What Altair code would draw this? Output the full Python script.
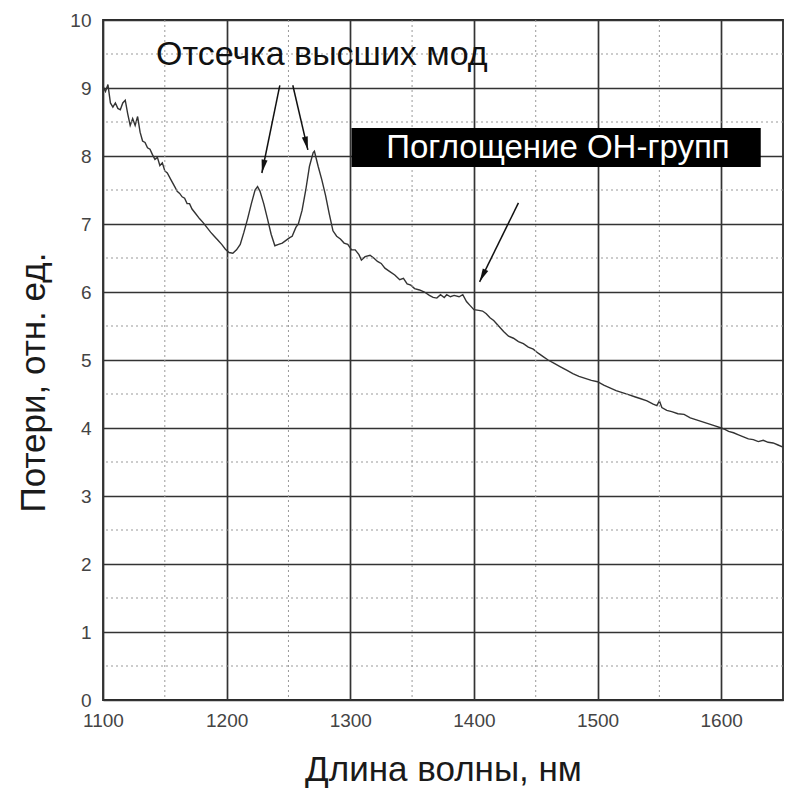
import math
import altair as alt
import pandas as pd

# ---------------- data ----------------
wavelength = [1100, 1102, 1104, 1106, 1108, 1110, 1112, 1114, 1116, 1118, 1120, 1122, 1124, 1126, 1128,
              1130, 1132, 1134, 1136, 1138, 1140, 1142, 1144, 1146, 1148, 1150, 1152, 1155, 1158, 1160,
              1162, 1164, 1166, 1168, 1170, 1172, 1175, 1178, 1181, 1184, 1187, 1190, 1193, 1196, 1199,
              1202, 1205, 1208, 1211, 1214, 1217, 1220, 1223, 1225, 1227, 1230, 1233, 1236, 1239, 1242,
              1245, 1248, 1251, 1253, 1256, 1258, 1261, 1264, 1267, 1270, 1271, 1274, 1277, 1280, 1283,
              1286, 1289, 1292, 1295, 1298, 1301, 1304, 1307, 1309, 1312, 1316, 1319, 1322, 1325, 1328,
              1332, 1336, 1340, 1343, 1346, 1349, 1352, 1356, 1360, 1364, 1367, 1370, 1373, 1376, 1378,
              1381, 1384, 1388, 1391, 1394, 1397, 1400, 1404, 1407, 1410, 1413, 1416, 1420, 1424, 1428,
              1432, 1436, 1440, 1444, 1448, 1452, 1456, 1460, 1465, 1470, 1475, 1480, 1485, 1490, 1495,
              1500, 1505, 1510, 1515, 1520, 1525, 1530, 1535, 1540, 1545, 1548, 1550, 1552, 1556, 1560,
              1565, 1570, 1575, 1580, 1585, 1590, 1595, 1600, 1603, 1606, 1610, 1614, 1618, 1622, 1626,
              1630, 1634, 1638, 1642, 1646, 1650]
loss = [9.02, 8.95, 9.05, 8.78, 8.72, 8.78, 8.70, 8.68, 8.78, 8.82, 8.62, 8.45, 8.55, 8.45, 8.58,
        8.35, 8.22, 8.20, 8.12, 8.10, 8.02, 7.95, 7.98, 7.86, 7.90, 7.78, 7.75, 7.65, 7.55, 7.48,
        7.45, 7.40, 7.38, 7.30, 7.30, 7.22, 7.15, 7.08, 7.02, 6.95, 6.88, 6.82, 6.76, 6.70, 6.63,
        6.58, 6.57, 6.62, 6.70, 6.88, 7.08, 7.30, 7.50, 7.55, 7.48, 7.30, 7.08, 6.85, 6.68, 6.70,
        6.72, 6.76, 6.80, 6.82, 6.95, 7.00, 7.20, 7.50, 7.85, 8.05, 8.07, 7.85, 7.65, 7.42, 7.15,
        6.90, 6.82, 6.78, 6.72, 6.70, 6.62, 6.62, 6.55, 6.47, 6.52, 6.54, 6.50, 6.45, 6.42, 6.35,
        6.30, 6.25, 6.18, 6.20, 6.12, 6.10, 6.05, 6.03, 6.00, 5.95, 5.92, 5.91, 5.96, 5.92, 5.96,
        5.93, 5.95, 5.93, 5.96, 5.86, 5.80, 5.74, 5.73, 5.72, 5.68, 5.62, 5.58, 5.50, 5.42, 5.35,
        5.32, 5.27, 5.24, 5.19, 5.16, 5.10, 5.05, 5.00, 4.95, 4.90, 4.85, 4.80, 4.76, 4.73, 4.70,
        4.68, 4.63, 4.59, 4.55, 4.52, 4.49, 4.46, 4.43, 4.40, 4.35, 4.33, 4.40, 4.30, 4.26, 4.24,
        4.21, 4.20, 4.15, 4.12, 4.09, 4.06, 4.03, 4.00, 3.98, 3.95, 3.93, 3.90, 3.87, 3.84, 3.83,
        3.80, 3.82, 3.79, 3.78, 3.75, 3.72]

x_ticks = [1100, 1200, 1300, 1400, 1500, 1600]
y_ticks = [0, 1, 2, 3, 4, 5, 6, 7, 8, 9, 10]
minor_x = [1150, 1250, 1350, 1450, 1550]
minor_y = [0.5, 1.5, 2.5, 3.5, 4.5, 5.5, 6.5, 7.5, 8.5, 9.5]

x_title = "Длина волны, нм"
y_title = "Потери, отн. ед."

label1_text = ["Отсечка высших мод"]
label1_x = [1277]
label1_y = [9.49]

label2_text = ["Поглощение ОН-групп"]
label2_x = [1468]
label2_y = [8.12]
box_x = [1301]
box_x2 = [1632]
box_y = [7.84]
box_y2 = [8.41]

arrow_x1 = [1243.0, 1253.5, 1436.0]
arrow_y1 = [9.04, 9.04, 7.31]
arrow_x2 = [1228.5, 1265.7, 1404.6]
arrow_y2 = [7.75, 8.09, 6.15]

# ---------------- layout ----------------
W, H = 680, 680
X_DOM = [1100, 1650]
Y_DOM = [0, 10]
FONT = "Liberation Sans"

xs = alt.Scale(domain=X_DOM, nice=False, zero=False)
ys = alt.Scale(domain=Y_DOM, nice=False, zero=True)

px_per_x = W / (X_DOM[1] - X_DOM[0])
px_per_y = H / (Y_DOM[1] - Y_DOM[0])

curve_df = pd.DataFrame({"x": wavelength, "y": loss})
arrows_df = pd.DataFrame({"x": arrow_x1, "y": arrow_y1, "x2": arrow_x2, "y2": arrow_y2})
# clockwise screen angle of each arrow's direction, measured from "up"
arrows_df["angle"] = [
    math.degrees(math.atan2((b - a) * px_per_x, (d - c) * px_per_y)) % 360
    for a, b, c, d in zip(arrow_x1, arrow_x2, arrow_y1, arrow_y2)
]

minor_x_df = pd.DataFrame({"x": minor_x})
minor_y_df = pd.DataFrame({"y": minor_y})
lab1_df = pd.DataFrame({"x": label1_x, "y": label1_y, "t": label1_text})
lab2_df = pd.DataFrame({"x": label2_x, "y": label2_y, "t": label2_text})
box_df = pd.DataFrame({"x": box_x, "x2": box_x2, "y": box_y, "y2": box_y2})

x_axis = alt.Axis(values=x_ticks, format="d", title=x_title, grid=True, gridColor="#333333",
                  gridWidth=1.7, gridOpacity=1, ticks=False, domain=False,
                  labelFont=FONT, labelFontSize=19, labelColor="#444", labelPadding=11,
                  labelFlush=False,
                  titleFont=FONT, titleFontSize=35, titleFontWeight="normal", titleColor="#1a1a1a",
                  titleX=W / 2, titleY=80, titleBaseline="alphabetic", titleAnchor="middle")
y_axis = alt.Axis(values=y_ticks, format="d", title=y_title, grid=True, gridColor="#333333",
                  gridWidth=1.7, gridOpacity=1, ticks=False, domain=False,
                  labelFont=FONT, labelFontSize=19, labelColor="#444", labelPadding=12,
                  labelFlush=False,
                  titleFont=FONT, titleFontSize=35, titleFontWeight="normal", titleColor="#1a1a1a",
                  titleX=-59, titleY=362, titleAngle=270, titleBaseline="alphabetic",
                  titleAlign="center")


def X(field):
    return alt.X(field, scale=xs, axis=x_axis)


def Y(field):
    return alt.Y(field, scale=ys, axis=y_axis)


curve = alt.Chart(curve_df).mark_line(color="#333333", strokeWidth=1.4).encode(
    x=X("x:Q"), y=Y("y:Q"))

minor_vx = alt.Chart(minor_x_df).mark_rule(color="#999999", strokeWidth=1, strokeDash=[2, 3]).encode(
    x=X("x:Q"))
minor_hy = alt.Chart(minor_y_df).mark_rule(color="#999999", strokeWidth=1, strokeDash=[2, 3]).encode(
    y=Y("y:Q"))

arrow_lines = alt.Chart(arrows_df).mark_rule(color="#111", strokeWidth=1.5).encode(
    x=X("x:Q"), x2="x2:Q", y=Y("y:Q"), y2="y2:Q")

arrow_heads = alt.Chart(arrows_df).mark_point(
    shape="M0,0L-0.45,2L0.45,2Z", filled=True, color="#111", size=180, opacity=1).encode(
    x=X("x2:Q"), y=Y("y2:Q"),
    angle=alt.Angle("angle:Q", scale=None))

box = alt.Chart(box_df).mark_rect(color="#000").encode(
    x=X("x:Q"), x2="x2:Q", y=Y("y:Q"), y2="y2:Q")

lab1 = alt.Chart(lab1_df).mark_text(font=FONT, fontSize=34, color="#111", align="center",
                                    baseline="middle").encode(
    x=X("x:Q"), y=Y("y:Q"), text="t:N")

lab2 = alt.Chart(lab2_df).mark_text(font=FONT, fontSize=33, color="#fff", align="center",
                                    baseline="middle").encode(
    x=X("x:Q"), y=Y("y:Q"), text="t:N")

chart = alt.layer(curve, minor_vx, minor_hy, arrow_lines, arrow_heads, box, lab1, lab2).properties(
    width=W, height=H,
    autosize=alt.AutoSizeParams(type="none"),
    padding={"left": 103, "top": 20, "right": 2, "bottom": 89},
    background="white",
).configure_view(stroke="#2a2a2a", strokeWidth=1.8)

chart.save("out.html", embed_options={"renderer": "svg", "actions": False})
